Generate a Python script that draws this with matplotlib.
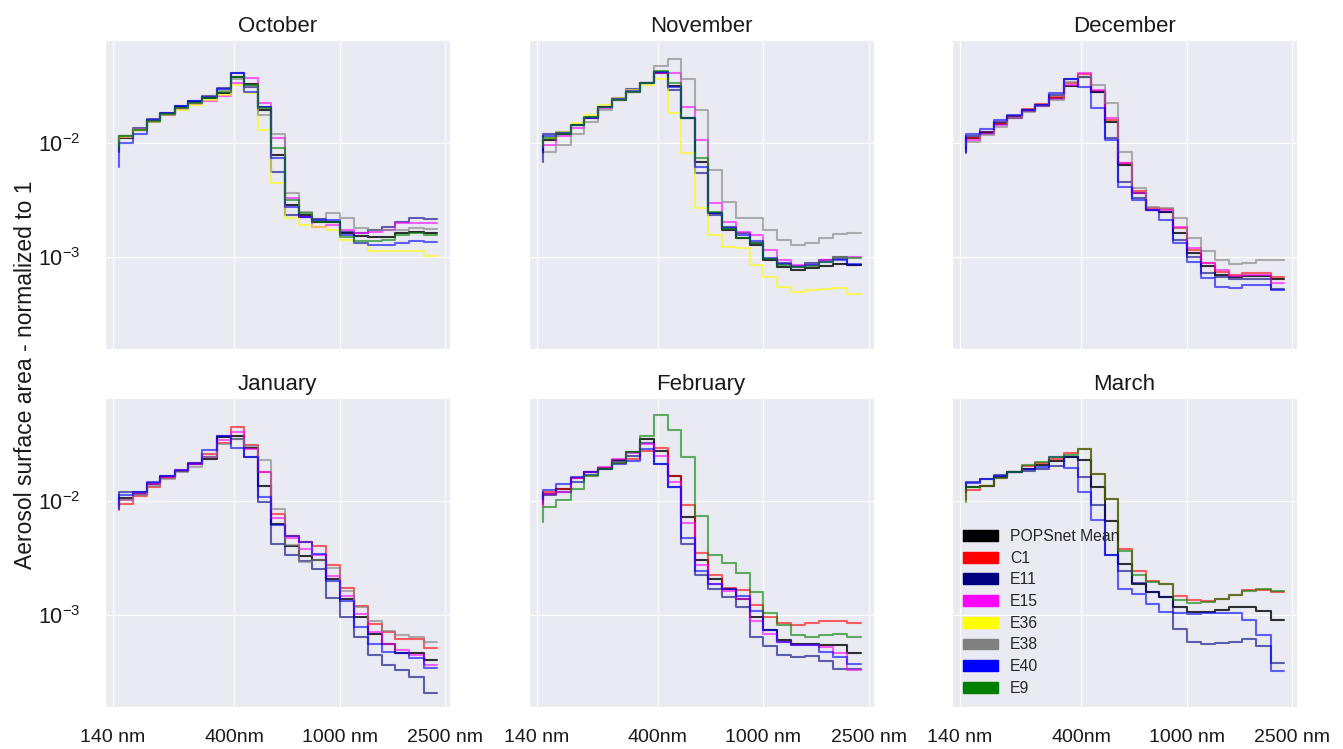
import numpy as np
import matplotlib
matplotlib.use('Agg')
from matplotlib import pyplot as plt
from matplotlib.patches import Patch
from matplotlib.ticker import NullLocator
import seaborn as sns

sns.set_style('darkgrid')
plt.rcParams['font.family'] = ['Liberation Sans', 'DejaVu Sans']
plt.rcParams['mathtext.default'] = 'regular'

# bin edges of the step curves (nm)
edges_nm = [148, 166, 188, 211, 239, 269, 304, 344, 389, 437, 491, 552,
            620, 700, 789, 891, 1000, 1131, 1275, 1440, 1618, 1828, 2072, 2328]

# normalized surface area, in units of 1e-3
# October
oct_mean = [9.03, 11.1, 13.1, 15.8, 18.2, 20.8, 23.0, 25.0, 28.0, 38.2, 33.4, 19.7, 7.89, 2.86, 2.33, 2.04, 2.00, 1.61, 1.52, 1.48, 1.50, 1.61, 1.66, 1.61]
oct_e11 = [8.44, 11.6, 13.6, 16.3, 18.7, 21.3, 23.4, 26.2, 30.6, 41.5, 31.2, 21.1, 5.62, 2.33, 2.25, 2.13, 2.04, 1.66, 1.61, 1.70, 1.84, 2.04, 2.18, 2.13]
oct_e15 = [10.0, 11.3, 13.3, 15.8, 17.8, 20.1, 22.2, 23.6, 26.2, 34.3, 37.5, 22.9, 11.1, 3.27, 2.25, 1.84, 1.90, 1.72, 1.61, 1.66, 1.72, 1.97, 1.97, 1.97]
oct_e36 = [9.67, 11.3, 13.1, 15.5, 17.8, 19.7, 21.8, 24.1, 26.7, 32.7, 27.6, 13.1, 4.44, 2.18, 1.90, 1.84, 1.72, 1.40, 1.31, 1.11, 1.11, 1.13, 1.13, 1.01]
oct_e38 = [9.35, 11.6, 13.3, 15.5, 17.8, 20.4, 22.5, 26.2, 29.6, 36.7, 32.1, 17.8, 12.2, 3.62, 2.50, 2.11, 2.41, 2.18, 1.78, 1.72, 1.72, 1.72, 1.78, 1.74]
oct_e40 = [6.22, 10.1, 12.2, 16.1, 18.4, 21.3, 23.4, 25.8, 30.0, 41.5, 28.6, 20.8, 7.37, 2.76, 2.25, 2.11, 2.09, 1.55, 1.31, 1.27, 1.27, 1.31, 1.38, 1.35]
oct_e9 = [9.03, 11.5, 13.1, 15.8, 18.0, 20.6, 22.9, 25.3, 28.6, 38.8, 32.7, 20.4, 9.03, 3.16, 2.41, 2.04, 2.04, 1.50, 1.36, 1.36, 1.40, 1.55, 1.61, 1.55]

# November
nov_mean = [8.44, 10.7, 12.1, 14.5, 16.9, 20.8, 24.1, 28.6, 33.8, 42.0, 32.1, 16.6, 6.89, 2.41, 1.72, 1.45, 1.27, 0.935, 0.816, 0.763, 0.789, 0.827, 0.855, 0.844]
nov_e11 = [6.89, 12.1, 12.7, 14.5, 17.2, 21.1, 25.0, 30.0, 33.8, 42.9, 29.6, 16.6, 5.44, 2.33, 1.84, 1.61, 1.31, 0.947, 0.873, 0.827, 0.873, 0.935, 0.947, 0.844]
nov_e15 = [9.35, 9.67, 11.5, 13.6, 16.6, 20.4, 24.1, 28.6, 33.8, 41.5, 41.5, 20.8, 10.7, 2.99, 2.00, 1.66, 1.55, 1.15, 0.935, 0.844, 0.844, 0.935, 1.00, 1.00]
nov_e36 = [9.67, 11.1, 12.7, 15.0, 17.8, 21.8, 25.0, 29.6, 32.7, 36.7, 18.4, 8.16, 2.67, 1.55, 1.22, 1.19, 0.844, 0.666, 0.544, 0.491, 0.508, 0.515, 0.526, 0.469]
nov_e38 = [8.16, 8.44, 9.67, 12.2, 15.5, 19.7, 24.1, 28.6, 33.8, 48.1, 55.1, 36.7, 19.7, 5.82, 3.06, 2.18, 2.18, 1.72, 1.40, 1.27, 1.31, 1.45, 1.58, 1.63]
nov_e40 = [8.16, 11.6, 12.4, 14.5, 16.9, 20.8, 24.7, 29.2, 33.8, 42.5, 31.2, 16.6, 6.22, 2.41, 1.80, 1.55, 1.36, 0.97, 0.861, 0.806, 0.844, 0.904, 0.935, 0.861]
nov_e9 = [9.35, 11.1, 12.2, 14.5, 17.2, 21.1, 24.1, 28.6, 33.8, 43.8, 34.3, 16.9, 7.37, 2.50, 1.74, 1.45, 1.31, 0.947, 0.844, 0.806, 0.827, 0.904, 0.99, 0.97]

# December
dec_mean = [9.03, 11.1, 12.4, 14.7, 16.9, 19.3, 21.3, 25.0, 32.1, 38.8, 28.6, 15.5, 6.44, 3.62, 2.58, 2.50, 1.61, 1.08, 0.827, 0.689, 0.666, 0.675, 0.675, 0.631]
dec_c1 = [9.67, 11.1, 12.7, 15.0, 17.4, 20.0, 22.2, 25.8, 33.8, 40.7, 29.2, 16.1, 6.75, 3.80, 2.67, 2.62, 1.78, 1.15, 0.873, 0.738, 0.689, 0.713, 0.723, 0.666]
dec_e11 = [8.16, 11.6, 12.7, 15.5, 17.4, 19.7, 21.8, 26.7, 36.7, 38.8, 28.6, 11.1, 4.59, 3.27, 2.58, 2.50, 1.40, 1.00, 0.713, 0.658, 0.631, 0.631, 0.631, 0.515]
dec_e15 = [10.0, 10.7, 12.2, 14.5, 16.9, 19.4, 21.3, 24.5, 32.7, 42.0, 29.6, 16.9, 6.66, 3.62, 2.58, 2.58, 1.84, 1.19, 0.873, 0.763, 0.675, 0.689, 0.689, 0.582]
dec_e38 = [9.35, 10.3, 11.9, 13.8, 16.6, 19.0, 21.3, 24.1, 35.0, 38.8, 32.7, 22.5, 8.44, 4.01, 2.76, 2.67, 2.18, 1.45, 1.11, 0.935, 0.861, 0.873, 0.935, 0.935]
dec_e40 = [8.44, 12.1, 13.3, 16.1, 17.8, 19.7, 21.8, 27.6, 36.7, 31.2, 20.4, 10.7, 4.15, 3.16, 2.58, 2.11, 1.31, 0.904, 0.644, 0.544, 0.526, 0.562, 0.562, 0.508]

# January
jan_mean = [9.23, 10.7, 11.7, 14.3, 16.3, 18.6, 21.3, 23.6, 37.2, 37.6, 29.8, 13.8, 6.27, 4.00, 3.27, 3.06, 2.05, 1.37, 0.948, 0.678, 0.554, 0.454, 0.454, 0.397]
jan_c1 = [8.35, 9.55, 11.1, 13.3, 16.0, 18.6, 21.7, 26.1, 32.9, 45.4, 31.2, 18.3, 7.66, 4.99, 4.42, 4.00, 2.77, 1.73, 1.20, 0.829, 0.702, 0.614, 0.614, 0.512]
jan_e11 = [9.23, 12.1, 12.2, 14.6, 16.9, 18.6, 21.3, 24.4, 38.1, 35.2, 24.4, 9.87, 4.19, 3.38, 2.96, 2.55, 1.40, 0.961, 0.634, 0.439, 0.359, 0.325, 0.284, 0.203]
jan_e15 = [9.23, 10.2, 11.7, 14.3, 16.3, 19.0, 21.3, 24.4, 34.8, 40.8, 28.8, 18.0, 7.16, 4.79, 3.81, 3.38, 2.19, 1.47, 1.01, 0.702, 0.554, 0.485, 0.439, 0.359]
jan_e38 = [8.93, 10.2, 11.3, 13.6, 15.8, 18.3, 20.3, 24.4, 31.8, 35.2, 30.8, 23.1, 8.63, 4.13, 2.92, 3.06, 2.59, 1.62, 1.17, 0.887, 0.716, 0.656, 0.634, 0.574]
jan_e40 = [8.63, 11.3, 12.2, 14.8, 16.9, 19.0, 21.7, 28.4, 38.1, 29.8, 24.4, 10.9, 6.18, 4.99, 4.42, 3.43, 1.98, 1.33, 0.776, 0.554, 0.470, 0.454, 0.410, 0.336]

# February
feb_mean = [9.55, 11.7, 12.9, 16.0, 18.0, 19.9, 23.1, 27.3, 35.2, 27.9, 16.9, 7.30, 3.06, 2.05, 1.67, 1.37, 0.948, 0.725, 0.593, 0.554, 0.554, 0.537, 0.537, 0.454]
feb_c1 = [9.23, 12.1, 12.8, 16.0, 18.0, 19.9, 21.7, 23.6, 27.9, 29.8, 16.9, 9.35, 3.50, 2.23, 1.73, 1.64, 1.22, 0.961, 0.846, 0.802, 0.840, 0.875, 0.887, 0.846]
feb_e11 = [9.87, 11.3, 12.2, 14.8, 17.1, 19.3, 22.8, 25.2, 32.9, 21.3, 13.3, 4.19, 2.26, 1.67, 1.42, 1.17, 0.634, 0.526, 0.439, 0.424, 0.430, 0.392, 0.329, 0.329]
feb_e15 = [8.93, 11.7, 12.2, 16.0, 18.3, 20.3, 23.6, 26.6, 31.8, 25.2, 14.9, 6.39, 2.77, 1.85, 1.62, 1.37, 0.887, 0.678, 0.574, 0.537, 0.537, 0.519, 0.454, 0.325]
feb_e40 = [10.5, 12.7, 14.3, 16.3, 18.0, 19.5, 21.3, 22.8, 28.8, 21.3, 13.3, 4.73, 2.42, 1.88, 1.67, 1.47, 1.08, 0.725, 0.574, 0.537, 0.537, 0.470, 0.424, 0.367]
feb_e9 = [6.61, 8.93, 10.2, 12.9, 16.6, 19.5, 21.7, 27.3, 37.6, 58.2, 42.5, 24.4, 7.45, 3.38, 2.86, 2.34, 1.57, 1.03, 0.802, 0.656, 0.634, 0.656, 0.67, 0.634]

# March
mar_mean = [12.1, 13.3, 13.8, 16.3, 18.3, 19.5, 20.9, 22.8, 24.4, 23.3, 13.3, 6.70, 2.81, 1.88, 1.60, 1.42, 1.17, 1.05, 1.05, 1.10, 1.16, 1.17, 1.08, 0.898]
mar_c1 = [10.2, 12.5, 13.6, 16.0, 18.0, 20.6, 22.0, 23.9, 26.6, 29.2, 17.4, 10.4, 3.81, 2.42, 1.98, 1.85, 1.47, 1.34, 1.31, 1.37, 1.49, 1.64, 1.64, 1.57]
mar_e11 = [13.3, 14.8, 15.8, 17.1, 18.0, 18.6, 19.3, 20.6, 24.4, 16.3, 9.23, 3.34, 2.42, 1.92, 1.57, 1.42, 0.750, 0.574, 0.547, 0.562, 0.574, 0.614, 0.526, 0.377]
mar_e40 = [13.8, 14.6, 15.6, 16.9, 18.3, 19.3, 20.3, 24.4, 19.9, 12.2, 6.83, 3.38, 1.67, 1.51, 1.24, 1.05, 1.03, 1.01, 1.03, 1.03, 1.03, 0.898, 0.656, 0.320]
mar_e9 = [9.87, 13.3, 13.6, 16.0, 18.3, 20.9, 22.3, 24.4, 25.5, 29.2, 17.4, 10.4, 3.61, 2.26, 1.96, 1.88, 1.34, 1.26, 1.28, 1.37, 1.49, 1.62, 1.67, 1.62]

months = ['October', 'November', 'December', 'January', 'February', 'March']
month_data = {
    'October': {'POPSnet Mean': oct_mean, 'E11': oct_e11, 'E15': oct_e15, 'E36': oct_e36,
                'E38': oct_e38, 'E40': oct_e40, 'E9': oct_e9},
    'November': {'POPSnet Mean': nov_mean, 'E11': nov_e11, 'E15': nov_e15, 'E36': nov_e36,
                 'E38': nov_e38, 'E40': nov_e40, 'E9': nov_e9},
    'December': {'POPSnet Mean': dec_mean, 'C1': dec_c1, 'E11': dec_e11, 'E15': dec_e15,
                 'E38': dec_e38, 'E40': dec_e40},
    'January': {'POPSnet Mean': jan_mean, 'C1': jan_c1, 'E11': jan_e11, 'E15': jan_e15,
                'E38': jan_e38, 'E40': jan_e40},
    'February': {'POPSnet Mean': feb_mean, 'C1': feb_c1, 'E11': feb_e11, 'E15': feb_e15,
                 'E40': feb_e40, 'E9': feb_e9},
    'March': {'POPSnet Mean': mar_mean, 'C1': mar_c1, 'E11': mar_e11, 'E40': mar_e40,
              'E9': mar_e9},
}

stations = ['POPSnet Mean', 'C1', 'E11', 'E15', 'E36', 'E38', 'E40', 'E9']
station_colors = ['black', 'red', 'navy', 'magenta', 'yellow', 'gray', 'blue', 'green']

fig, axes = plt.subplots(2, 3, figsize=(13.43, 7.49), dpi=100, sharex=True, sharey=True)
fig.subplots_adjust(left=0.0782, right=0.9658, top=0.9466, bottom=0.0561,
                    wspace=0.2275, hspace=0.159)

for ax, month in zip(axes.flat, months):
    for name, col in zip(stations, station_colors):
        if name not in month_data[month]:
            continue
        vals = np.array(month_data[month][name]) * 1e-3
        ax.plot(edges_nm, vals, drawstyle='steps', color=col,
                alpha=0.8 if name == 'POPSnet Mean' else 0.6, lw=1.5)
    ax.set_title(month, fontsize=16, color='#1a1a1a')

ax0 = axes[0, 0]
ax0.set_xscale('log')
ax0.set_yscale('log')
ax0.set_xlim(130.6, 2605)
ax0.set_ylim(1.53e-4, 0.0817)
ax0.set_xticks([140, 400, 1000, 2500], ['140 nm', '400nm', '1000 nm', '2500 nm'])
ax0.set_yticks([1e-3, 1e-2])
ax0.xaxis.set_minor_locator(NullLocator())
ax0.yaxis.set_minor_locator(NullLocator())
for ax in axes.flat:
    ax.tick_params(axis='x', labelsize=14, pad=12, colors='#1a1a1a')
    ax.tick_params(axis='y', labelsize=15.5, pad=14, colors='#1a1a1a')

fig.text(0.019, 0.5, 'Aerosol surface area - normalized to 1', rotation=90,
         va='center', ha='center', fontsize=16.5, color='#1a1a1a')

handles = [Patch(facecolor=c, edgecolor=c) for c in station_colors]
axes[1, 2].legend(handles, stations, loc='lower left', frameon=False, fontsize=11.3,
                  handlelength=2.2, handleheight=0.7, labelspacing=0.43,
                  borderaxespad=0.3)

fig.savefig('out.png', dpi=100)
